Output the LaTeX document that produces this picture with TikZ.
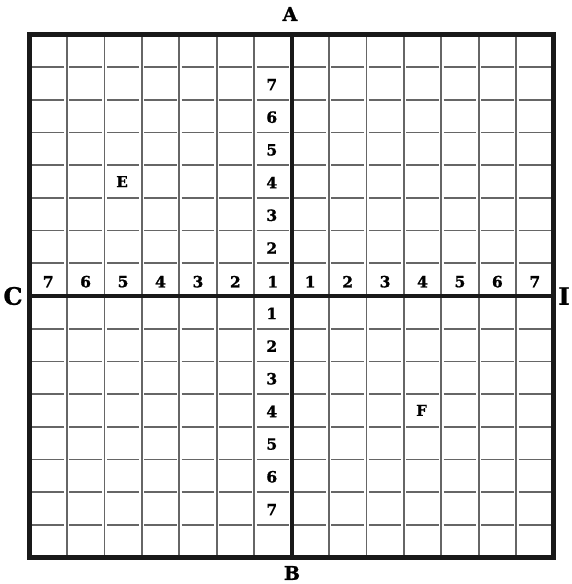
\documentclass[tikz,border=0pt]{standalone}
\usepackage{fontspec}
\setmainfont{DejaVu Serif}
\newfontfamily\heavy{DejaVu Serif Bold}[FakeBold=1.2]
\begin{document}
\begin{tikzpicture}[x=1pt,y=-1pt,
  gridline/.style={line width=1.7pt, draw=black!60},
  frameline/.style={line width=5pt, draw=black!90},
  axisline/.style={line width=4pt, draw=black!90},
  num/.style={font=\fontsize{15.5}{15.5}\heavy, inner sep=0pt},
  letter/.style={font=\fontsize{24}{24}\heavy, inner sep=0pt},
  inletter/.style={font=\fontsize{15}{15}\heavy, inner sep=0pt}]
\useasboundingbox (0,0) rectangle (571,584);
\def\xa{29.5}\def\ya{34.5}\def\cw{37.43}\def\ch{32.69}
% vertical grid lines
\foreach \i in {1,...,13}{
  \ifnum\i=7\relax\else
    \draw[gridline] ({\xa+\i*\cw},\ya) -- ({\xa+\i*\cw},{\ya+16*\ch});
  \fi}
% horizontal grid lines, broken at each crossing
\foreach \j in {1,...,15}{
  \ifnum\j=8\relax\else
    \foreach \i in {0,...,13}{
      \draw[gridline] ({\xa+\i*\cw+2.5},{\ya+\j*\ch}) -- ({\xa+(\i+1)*\cw-2.5},{\ya+\j*\ch});
    }
  \fi}
% axes
\draw[axisline] ({\xa+7*\cw},\ya) -- ({\xa+7*\cw},{\ya+16*\ch});
\draw[axisline] (\xa,{\ya+8*\ch}) -- ({\xa+14*\cw},{\ya+8*\ch});
% frame
\draw[frameline] (\xa,\ya) rectangle ({\xa+14*\cw},{\ya+16*\ch});
% horizontal numbers (row above axis)
\foreach \i/\n in {0/7,1/6,2/5,3/4,4/3,5/2,6/1,7/1,8/2,9/3,10/4,11/5,12/6,13/7}{
  \node[num] (h\i) at ({\xa+(\i+0.5)*\cw},{\ya+7.5*\ch+2}) {\n};
}
% vertical numbers above
\foreach \n in {2,...,7}{
  \node[num] (u\n) at ({\xa+6.5*\cw-1},{\ya+(8-\n+0.5)*\ch+1}) {\n};
}
% vertical numbers below
\foreach \n in {1,...,7}{
  \node[num] (d\n) at ({\xa+6.5*\cw-1},{\ya+(7+\n+0.5)*\ch+1}) {\n};
}
% letters in cells
\node[inletter] (E) at ({\xa+2.5*\cw-1},{\ya+4.5*\ch}) {E};
\node[inletter] (F) at ({\xa+10.5*\cw-1},{\ya+11.5*\ch}) {F};
% outer letters
\node[letter, font=\fontsize{19}{19}\heavy] (A) at (290,14) {A};
\node[letter, font=\fontsize{19}{19}\heavy] (B) at (292,573) {B};
\node[letter] (C) at (13,296) {C};
\node[letter] (I) at (564,296) {I};
\end{tikzpicture}
\end{document}
